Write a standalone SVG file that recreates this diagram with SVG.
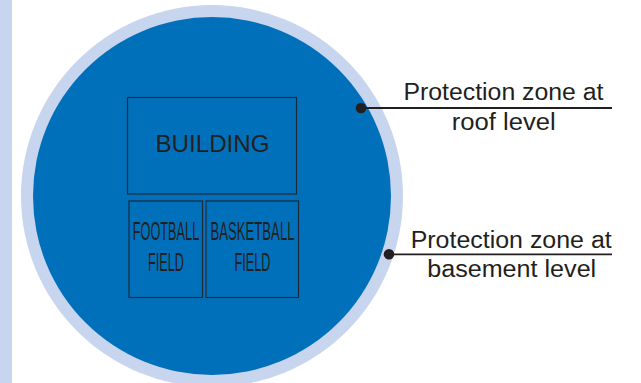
<svg xmlns="http://www.w3.org/2000/svg" width="641" height="383" viewBox="0 0 641 383">
<style>
.box{fill:none;stroke:#1e2a3a;stroke-width:1.2}
.t{font-family:"Liberation Sans",Arial,sans-serif;fill:#231f20}
.lbl{font-size:23px;text-anchor:middle}
.cond{font-size:25px;text-anchor:middle}
.lead{stroke:#231f20;stroke-width:1.8;fill:none}
</style>
<rect x="0" y="0" width="12" height="383" fill="#c8d5ee"/>
<g id="zone">
<circle cx="212" cy="196" r="191" fill="#c8d5ee"/>
<circle cx="212" cy="196" r="179" fill="#0070ba"/>
</g>
<g id="building">
<rect class="box" x="127.5" y="97.5" width="169" height="96.5"/>
<text class="t" x="212.5" y="152" font-size="24" text-anchor="middle" textLength="114" lengthAdjust="spacingAndGlyphs">BUILDING</text>
</g>
<g id="football">
<rect class="box" x="129" y="201" width="73.5" height="96.5"/>
<g transform="translate(166,0) scale(0.52,1)">
<text class="t cond" x="0" y="240" textLength="128" lengthAdjust="spacingAndGlyphs">FOOTBALL</text>
<text class="t cond" x="0" y="271.5" textLength="69" lengthAdjust="spacingAndGlyphs">FIELD</text>
</g>
</g>
<g id="basketball">
<rect class="box" x="206" y="201" width="92.5" height="96.5"/>
<g transform="translate(252.5,0) scale(0.52,1)">
<text class="t cond" x="0" y="240" textLength="161.5" lengthAdjust="spacingAndGlyphs">BASKETBALL</text>
<text class="t cond" x="0" y="271.5" textLength="69" lengthAdjust="spacingAndGlyphs">FIELD</text>
</g>
</g>
<g id="connectors">
<line class="lead" x1="361" y1="108" x2="612" y2="108"/>
<circle cx="361" cy="108" r="5.3" fill="#231f20"/>
<line class="lead" x1="389" y1="254.3" x2="612" y2="254.3"/>
<circle cx="389" cy="254.3" r="5.3" fill="#231f20"/>
</g>
<g id="label-roof">
<text class="t lbl" x="503.5" y="100" textLength="200" lengthAdjust="spacingAndGlyphs">Protection zone at</text>
<text class="t lbl" x="503.7" y="130" textLength="104" lengthAdjust="spacingAndGlyphs">roof level</text>
</g>
<g id="label-basement">
<text class="t lbl" x="511.2" y="248.3" textLength="201" lengthAdjust="spacingAndGlyphs">Protection zone at</text>
<text class="t lbl" x="511.7" y="277.3" textLength="169" lengthAdjust="spacingAndGlyphs">basement level</text>
</g>
</svg>
